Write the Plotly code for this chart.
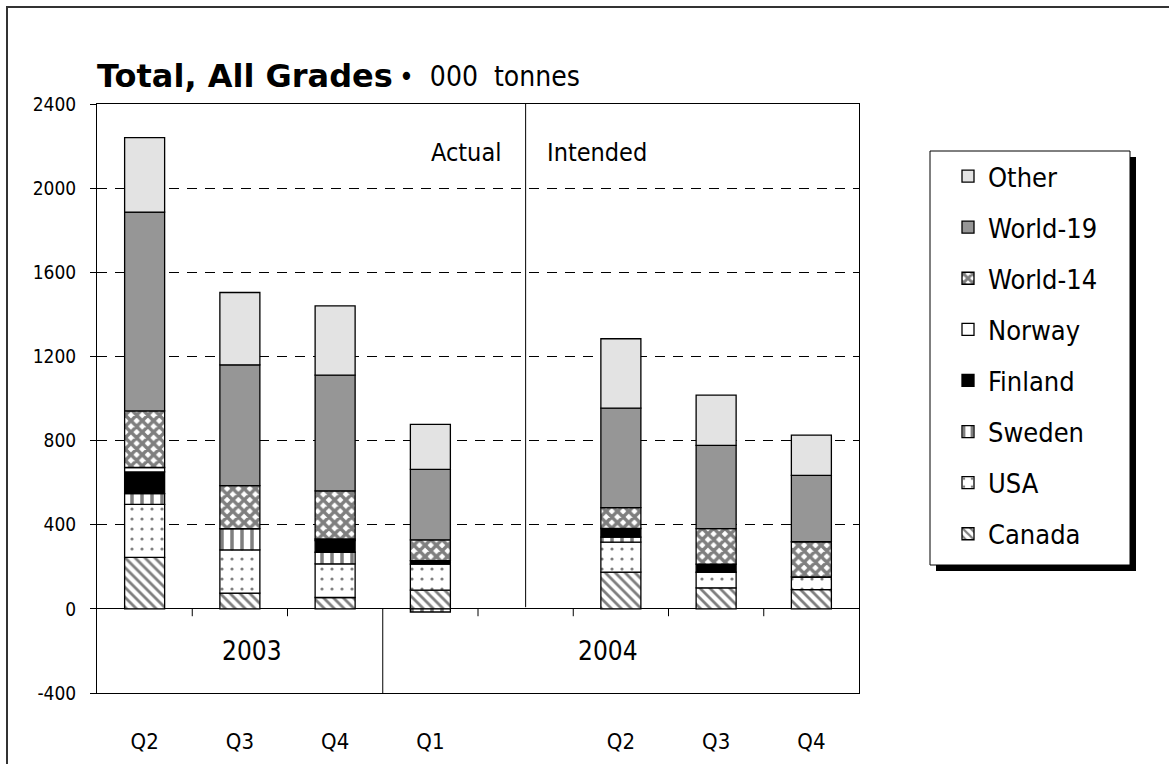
import plotly.graph_objects as go

# ---------------- data ----------------
quarters = ["Q2", "Q3", "Q4", "Q1", "", "Q2", "Q3", "Q4"]
years = ["2003", "2004"]
year_first_slot = [0, 3]
year_last_slot = [2, 7]
divider_slot = 4
y_ticks = [-400, 0, 400, 800, 1200, 1600, 2000, 2400]

series_names = ["Canada", "USA", "Sweden", "Finland", "Norway", "World-14", "World-19", "Other"]
canada = [245, 75, 54, 89, None, 175, 100, 91]
usa = [252, 205, 160, 124, None, 142, 74, 61]
sweden = [51, 101, 55, -15, None, 24, 0, 0]
finland = [103, 0, 56, 16, None, 41, 39, 0]
norway = [21, 0, 7, 0, None, 0, 0, 0]
world14 = [269, 205, 229, 99, None, 99, 168, 167]
world19 = [945, 574, 550, 335, None, 473, 396, 316]
other = [354, 344, 329, 214, None, 330, 239, 191]
series_values = [canada, usa, sweden, finland, norway, world14, world19, other]

# ---------------- styles ----------------
NARROW = "DejaVu Sans Condensed, Liberation Sans Narrow, Arial Narrow, sans-serif"
BOLD = "DejaVu Sans, Liberation Sans, Arial, sans-serif"
styles = {
    "Canada": dict(color="white", pattern=dict(shape="\\", fgcolor="black", bgcolor="white", size=7, solidity=0.4)),
    "USA": dict(color="white", pattern=dict(shape=".", fgcolor="black", bgcolor="white", size=10, solidity=0.08)),
    "Sweden": dict(color="white", pattern=dict(shape="|", fgcolor="black", bgcolor="white", size=10, solidity=0.35)),
    "Finland": dict(color="black"),
    "Norway": dict(color="white"),
    "World-14": dict(color="white", pattern=dict(shape="x", fgcolor="black", bgcolor="white", size=8, solidity=0.68)),
    "World-19": dict(color="#969696"),
    "Other": dict(color="#e3e3e3"),
}

W, H = 1169, 764
L, R, T, B = 97, 859, 104, 693
PW, PH = R - L, B - T

def px(x):
    return (x - L) / PW

def py(y):
    return (B - y) / PH

x_idx = list(range(len(quarters)))
n = len(series_names)

fig = go.Figure()
for i, (name, vals) in enumerate(zip(series_names, series_values)):
    st = styles[name]
    marker = dict(color=st["color"], line=dict(color="black", width=1.3))
    if "pattern" in st:
        marker["pattern"] = st["pattern"]
    fig.add_trace(go.Bar(
        x=x_idx, y=vals, name=name, marker=marker,
        legendgroup=name, legendrank=n - i, width=0.42,
    ))

shapes = []
# outer border
shapes.append(dict(type="rect", xref="paper", yref="paper",
                   x0=px(7), x1=px(W + 20), y0=py(7), y1=py(H + 20),
                   line=dict(color="#333333", width=2), fillcolor="rgba(0,0,0,0)", layer="below"))
# Actual / Intended divider
shapes.append(dict(type="line", xref="x", yref="y", x0=divider_slot, x1=divider_slot,
                   y0=8, y1=y_ticks[-1], line=dict(color="black", width=1)))
# year divider and category ticks on zero line
for k in range(len(quarters) - 1):
    xb = k + 0.5
    if any(xb == last + 0.5 for last in year_last_slot[:-1]):
        shapes.append(dict(type="line", xref="x", yref="y", x0=xb, x1=xb,
                           y0=y_ticks[0], y1=0, line=dict(color="black", width=1)))
    else:
        shapes.append(dict(type="line", xref="x", yref="y", x0=xb, x1=xb,
                           y0=-35, y1=0, line=dict(color="black", width=1)))
# legend box with shadow
lb_x0, lb_x1, lb_y0, lb_y1 = 930, 1130, 151, 565
shapes.append(dict(type="rect", xref="paper", yref="paper",
                   x0=px(lb_x0 + 6), x1=px(lb_x1 + 6), y0=py(lb_y0 + 6), y1=py(lb_y1 + 6),
                   line=dict(width=0), fillcolor="black", layer="above"))
shapes.append(dict(type="rect", xref="paper", yref="paper",
                   x0=px(lb_x0), x1=px(lb_x1), y0=py(lb_y0), y1=py(lb_y1),
                   line=dict(color="black", width=1), fillcolor="white", layer="above"))

annotations = []
year_shift = [12, -13]
for yr, a, b, sh in zip(years, year_first_slot, year_last_slot, year_shift):
    annotations.append(dict(x=(a + b) / 2, y=(y_ticks[0] + 0) / 2, xref="x", yref="y",
                            text=yr, showarrow=False, xshift=sh,
                            font=dict(family=NARROW, size=26, color="black")))
annotations.append(dict(x=divider_slot, y=2170, xref="x", yref="y", text="Actual",
                        xanchor="right", xshift=-23, showarrow=False,
                        font=dict(family=NARROW, size=25, color="black")))
annotations.append(dict(x=divider_slot, y=2170, xref="x", yref="y", text="Intended",
                        xanchor="left", xshift=19, showarrow=False,
                        font=dict(family=NARROW, size=25, color="black")))
annotations.append(dict(x=px(95), y=py(97), xref="paper", yref="paper",
                        text="<b>Total, All Grades</b>", xanchor="left", yanchor="bottom",
                        showarrow=False, font=dict(family=BOLD, size=32, color="black")))
annotations.append(dict(x=px(397), y=py(95), xref="paper", yref="paper",
                        text="•  000  tonnes", xanchor="left", yanchor="bottom",
                        showarrow=False, font=dict(family=NARROW, size=28, color="black")))

fig.update_layout(
    width=W, height=H,
    margin=dict(l=L, r=W - R, t=T, b=H - B, pad=0, autoexpand=False),
    paper_bgcolor="white", plot_bgcolor="white",
    barmode="relative", bargap=0.58,
    showlegend=True,
    legend=dict(x=px(948), y=py(152), xanchor="left", yanchor="top",
                bgcolor="rgba(0,0,0,0)", borderwidth=0,
                traceorder="grouped", tracegroupgap=13,
                font=dict(family=NARROW, size=27, color="black")),
    shapes=shapes, annotations=annotations,
    xaxis=dict(range=[-0.5, len(quarters) - 0.5], tickvals=x_idx, ticktext=quarters,
               ticks="", showgrid=False, zeroline=False, automargin=False,
               showline=True, mirror=True, linecolor="black", linewidth=1,
               ticklabelstandoff=29,
               tickfont=dict(family=NARROW, size=22, color="black")),
    yaxis=dict(range=[y_ticks[0], y_ticks[-1]], tickvals=y_ticks,
               ticktext=[str(v) for v in y_ticks], automargin=False,
               ticks="outside", ticklen=6, tickcolor="black",
               showgrid=True, gridcolor="black", gridwidth=1, griddash="10px,8px",
               zeroline=True, zerolinecolor="black", zerolinewidth=1,
               showline=True, mirror=True, linecolor="black", linewidth=1,
               ticklabelstandoff=10,
               tickfont=dict(family=NARROW, size=19, color="black")),
)

fig.write_html("out.html", config={"displayModeBar": False},
               post_script="document.body.style.margin='0px';document.body.style.overflow='hidden';")
